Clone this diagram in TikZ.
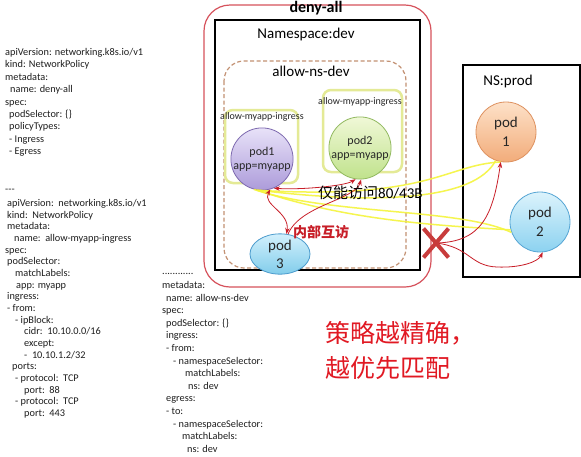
\documentclass[tikz,border=0pt]{standalone}
\usepackage{fontspec}
\setmainfont{Carlito}
\newfontfamily\cjk{Noto Sans CJK SC}
\usetikzlibrary{arrows.meta,shapes.geometric,shapes.misc}
\definecolor{denyred}{RGB}{214,82,92}
\definecolor{dashbrown}{RGB}{195,145,115}
\definecolor{ybox}{RGB}{228,234,150}
\definecolor{conred}{RGB}{200,30,40}
\definecolor{yline}{RGB}{245,245,60}
\definecolor{xred}{RGB}{200,60,60}
\definecolor{bigred}{RGB}{225,25,35}
\definecolor{codegray}{RGB}{30,30,30}
\begin{document}
\begin{tikzpicture}[x=1pt,y=-1pt,
  codeline/.style={anchor=base west, inner sep=0pt, font=\fontsize{10.3}{12}\selectfont, text=codegray},
  podc/.style={circle, draw, line width=0.8pt, inner sep=0pt, align=center, text=black!85},
  redc/.style={draw=conred, line width=0.8pt},
  tipr/.style={-{Stealth[length=6pt,width=4.5pt]}},
  tiprr/.style={{Stealth[length=6pt,width=4.5pt]}-{Stealth[length=6pt,width=4.5pt]}},
  yel/.style={draw=yline, line width=1.5pt, opacity=0.9},
  smalllbl/.style={anchor=base, inner sep=0pt, font=\fontsize{10}{12}\selectfont, text=black!85}
]
\fill[white] (0,0) rectangle (581,456);
\useasboundingbox (0,0) rectangle (581,456);

% ---------- code blocks ----------
\node[codeline] (c1a) at (5,55.5) {apiVersion: networking.k8s.io/v1};
\node[codeline] (c1b) at (5,67.9) {kind: NetworkPolicy};
\node[codeline] (c1c) at (5,80.3) {metadata:};
\node[codeline] (c1d) at (10,92.7) {name: deny-all};
\node[codeline] (c1e) at (5,105.1) {spec:};
\node[codeline] (c1f) at (9,117.5) {podSelector: \{\}};
\node[codeline] (c1g) at (9,129.9) {policyTypes:};
\node[codeline] (c1h) at (9,142.3) {- Ingress};
\node[codeline] (c1i) at (9,154.7) {- Egress};

\node[codeline] (c2z) at (5,192.5) {{-}{-}{-}};
\node[codeline] (c2a) at (7,206.5) {apiVersion:\ \ networking.k8s.io/v1};
\node[codeline] (c2b) at (7,218.17) {kind:\ \ NetworkPolicy};
\node[codeline] (c2c) at (7,229.84) {metadata:};
\node[codeline] (c2d) at (14,241.51) {name:\ \ allow-myapp-ingress};
\node[codeline] (c2e) at (5,253.18) {spec:};
\node[codeline] (c2f) at (7,264.85) {podSelector:};
\node[codeline] (c2g) at (15,276.52) {matchLabels:};
\node[codeline] (c2h) at (16,288.19) {app: myapp};
\node[codeline] (c2i) at (7,299.86) {ingress:};
\node[codeline] (c2j) at (7,311.53) {- from:};
\node[codeline] (c2k) at (15,323.2) {- ipBlock:};
\node[codeline] (c2l) at (24,334.87) {cidr:\ \ 10.10.0.0/16};
\node[codeline] (c2m) at (24,346.54) {except:};
\node[codeline] (c2n) at (24,358.21) {-\ \ 10.10.1.2/32};
\node[codeline] (c2o) at (12,369.88) {ports:};
\node[codeline] (c2p) at (15,381.55) {- protocol:\ \ TCP};
\node[codeline] (c2q) at (24,393.22) {port:\ \ 88};
\node[codeline] (c2r) at (15,404.89) {- protocol:\ \ TCP};
\node[codeline] (c2s) at (24,416.56) {port:\ \ 443};

\node[codeline] (c3z) at (162,274) {............};
\node[codeline] (c3a) at (162,288.5) {metadata:};
\node[codeline] (c3b) at (166,301.1) {name: allow-ns-dev};
\node[codeline] (c3c) at (162,313.7) {spec:};
\node[codeline] (c3d) at (166,326.3) {podSelector: \{\}};
\node[codeline] (c3e) at (166,338.9) {ingress:};
\node[codeline] (c3f) at (166,351.5) {- from:};
\node[codeline] (c3g) at (173,364.1) {- namespaceSelector:};
\node[codeline] (c3h) at (185,376.7) {matchLabels:};
\node[codeline] (c3i) at (188,389.3) {ns: dev};
\node[codeline] (c3j) at (166,401.9) {egress:};
\node[codeline] (c3k) at (166,414.5) {- to:};
\node[codeline] (c3l) at (173,427.1) {- namespaceSelector:};
\node[codeline] (c3m) at (182,439.7) {matchLabels:};
\node[codeline] (c3n) at (187,452.3) {ns: dev};

% ---------- containers ----------
\draw[denyred, line width=1.2pt, rounded corners=26pt] (204,5) rectangle (431,287);
\draw[black, line width=2.6pt] (215,20) rectangle (420,270);
\draw[dashbrown, line width=1.2pt, dashed, dash pattern=on 4pt off 2.5pt, rounded corners=20pt] (224,61) rectangle (406,268);
\draw[ybox, line width=2.5pt, rounded corners=8pt] (225,110) rectangle (298,183);
\draw[ybox, line width=2.5pt, rounded corners=8pt] (323,90) rectangle (402,172);
\draw[black, line width=2.2pt] (463,65) rectangle (580,277);

% ---------- titles ----------
\node[anchor=base, inner sep=0pt, font=\fontsize{16}{18}\selectfont\bfseries] (tdeny) at (316,12.5) {deny-all};
\node[anchor=base, inner sep=0pt, font=\fontsize{15}{18}\selectfont] (tns) at (306,38) {Namespace:dev};
\node[anchor=base, inner sep=0pt, font=\fontsize{15}{18}\selectfont] (tallow) at (311,76) {allow-ns-dev};
\node[smalllbl] (tl1) at (262,119.5) {allow-myapp-ingress};
\node[smalllbl] (tl2) at (360,104) {allow-myapp-ingress};
\node[anchor=base, inner sep=0pt, font=\fontsize{15}{18}\selectfont] (tprod) at (508,85) {NS:prod};

% ---------- pods ----------
\node[podc, minimum size=58pt, draw={rgb,255:red,125;green,105;blue,175}, top color={rgb,255:red,232;green,226;blue,248}, bottom color={rgb,255:red,172;green,155;blue,218}, font=\fontsize{12}{14}\selectfont] (pod1) at (262,159) {pod1\\app=myapp};
\node[podc, minimum size=58pt, draw={rgb,255:red,145;green,185;blue,95}, top color={rgb,255:red,240;green,248;blue,215}, bottom color={rgb,255:red,192;green,226;blue,140}, font=\fontsize{12}{14}\selectfont] (pod2) at (360,148) {pod2\\app=myapp};
\node[ellipse, draw={rgb,255:red,75;green,155;blue,205}, line width=0.8pt, top color={rgb,255:red,210;green,240;blue,252}, bottom color={rgb,255:red,130;green,205;blue,235}, minimum width=60pt, minimum height=34pt, inner sep=0pt, align=center, text=black!85, font=\fontsize{15}{18}\selectfont] (pod3) at (280,254) {pod\\3};
\node[podc, minimum size=60pt, draw={rgb,255:red,222;green,145;blue,95}, top color={rgb,255:red,253;green,225;blue,200}, bottom color={rgb,255:red,242;green,172;blue,122}, font=\fontsize{15}{19}\selectfont] (ppod1) at (506,132) {pod\\1};
\node[podc, minimum size=60pt, draw={rgb,255:red,85;green,165;blue,212}, top color={rgb,255:red,220;green,243;blue,252}, bottom color={rgb,255:red,140;green,210;blue,240}, font=\fontsize{15}{19}\selectfont] (ppod2) at (540,222) {pod\\2};

% ---------- yellow connectors ----------
\draw[yel] (pod1.-100) .. controls (380,205) and (475,200) .. (ppod1.-110);
\draw[yel] (pod1.-95) .. controls (430,200) and (445,165) .. (ppod1.-100);
\draw[yel] (pod1.-105) .. controls (330,215) and (460,208) .. (ppod2.-160);
\draw[yel] (pod1.-98) .. controls (350,222) and (450,226) .. (ppod2.-165);

% ---------- red connectors ----------
\draw[redc, tiprr] (pod1.-75) .. controls (262,205) and (290,212) .. (pod3.72);
\draw[redc, tipr] (pod3.68) .. controls (300,205) and (355,200) .. (pod2.-88);
\draw[redc, tiprr] (pod1.-68) .. controls (300,190) and (345,186) .. (pod2.-98);

\draw[redc, tipr] (436,243) coordinate (xc) .. controls (482,242) and (493,215) .. (ppod1.-100);
\draw[redc] (xc) .. controls (470,247) and (470,266) .. (497,267) coordinate (xbend);
\draw[redc, tipr] (xbend) .. controls (520,268) and (538,262) .. (ppod2.-85);
\node[cross out, draw=xred, line width=4pt, minimum width=21pt, minimum height=25pt, inner sep=0pt] (xmark) at (xc) {};

% ---------- annotations ----------
\node[anchor=base west, inner sep=0pt, font=\fontsize{15}{18}\selectfont, text=black] (tonly) at (318,198) {{\cjk 仅能访问}80/43B};
\node[anchor=base west, inner sep=0pt, font=\fontsize{14}{16}\selectfont\cjk\bfseries, text=conred] (tinner) at (293,237) {内部互访};
\node[anchor=base west, inner sep=0pt, font=\fontsize{25}{30}\selectfont\cjk, text=bigred] (tbig1) at (325,342.5) {策略越精确，};
\node[anchor=base west, inner sep=0pt, font=\fontsize{25}{30}\selectfont\cjk, text=bigred] (tbig2) at (325,377.5) {越优先匹配};
\end{tikzpicture}
\end{document}
